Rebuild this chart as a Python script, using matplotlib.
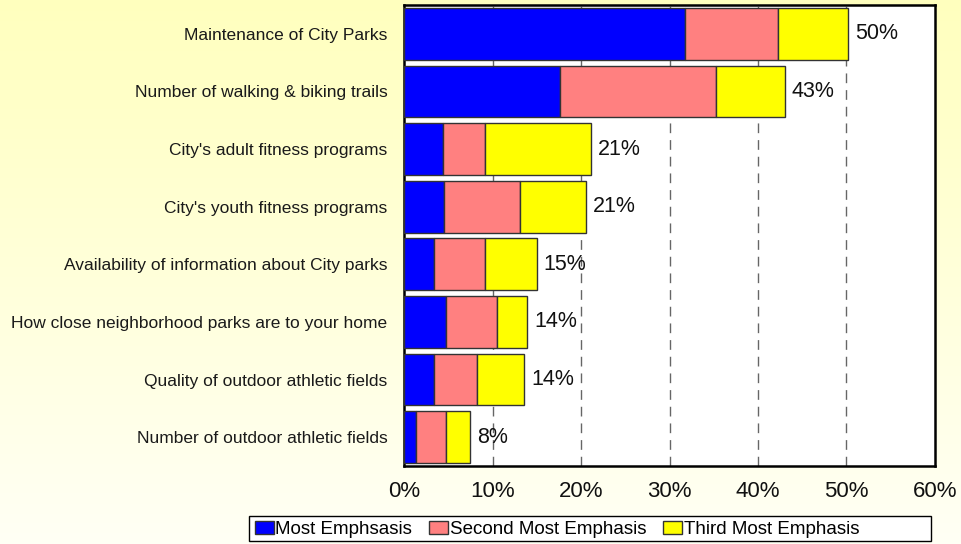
import numpy as np
import matplotlib
matplotlib.use("Agg")
import matplotlib.pyplot as plt
from matplotlib.ticker import FuncFormatter
from matplotlib.patches import Rectangle

plt.rcParams['font.family'] = ['Liberation Sans', 'DejaVu Sans']

# data (percent of respondents)
categorias = [
    "Maintenance of City Parks",
    "Number of walking & biking trails",
    "City's adult fitness programs",
    "City's youth fitness programs",
    "Availability of information about City parks",
    "How close neighborhood parks are to your home",
    "Quality of outdoor athletic fields",
    "Number of outdoor athletic fields",
]
most = [31.7, 17.6, 4.4, 4.5, 3.4, 4.8, 3.4, 1.4]
second = [10.6, 17.7, 4.7, 8.6, 5.7, 5.7, 4.8, 3.4]
third = [7.9, 7.7, 12.0, 7.5, 5.9, 3.4, 5.4, 2.7]
totais = [50, 43, 21, 21, 15, 14, 14, 8]
legendas = ["Most Emphsasis", "Second Most Emphasis", "Third Most Emphasis"]
xticks = [0, 10, 20, 30, 40, 50, 60]

fig = plt.figure(figsize=(9.62, 5.44), dpi=100)

# fundo em degrade amarelo -> branco
bg = fig.add_axes([0, 0, 1, 1], zorder=-10)
grad = np.linspace(0, 1, 256).reshape(-1, 1)
top = np.array([255, 255, 190]) / 255
bot = np.array([255, 255, 245]) / 255
img = top + (bot - top) * grad[:, :, None]
bg.imshow(img, aspect='auto', extent=[0, 1, 0, 1])
bg.axis('off')

ax = fig.add_axes([404 / 962, 1 - 466 / 544, (935 - 404) / 962, (466 - 5) / 544])
ax.set_facecolor('white')

y = np.arange(len(categorias))
m = np.array(most)
s = np.array(second)
t = np.array(third)
kw = dict(height=0.9, edgecolor='#333333', linewidth=1, zorder=3)
b1 = ax.barh(y, m, color='#0000FF', label=legendas[0], **kw)
b2 = ax.barh(y, s, left=m, color='#FF8080', label=legendas[1], **kw)
b3 = ax.barh(y, t, left=m + s, color='#FFFF00', label=legendas[2], **kw)

ax.bar_label(b3, labels=[f"{v}%" for v in totais], padding=5, fontsize=15.5,
             color='#111111')

ax.set_xlim(0, 60)
ax.set_ylim(len(categorias) - 0.5, -0.5)
ax.set_yticks(y)
ax.set_yticklabels(categorias, fontsize=12.5, color='#1a1a1a')
ax.set_xticks(xticks)
ax.xaxis.set_major_formatter(FuncFormatter(lambda v, p: f"{v:.0f}%"))
ax.tick_params(axis='x', length=0, labelsize=16, pad=11, labelcolor='#111111')
ax.tick_params(axis='y', length=0, pad=12)

for xv in xticks[1:-1]:
    ax.axvline(xv, color='#666666', linewidth=1, linestyle=(0, (7, 5)), zorder=1)

for sp in ax.spines.values():
    sp.set_linewidth(1.8)
    sp.set_color('black')

# caixa da legenda (mais larga que o conteudo, como no original)
fig.patches.append(Rectangle((249 / 962, 1 - 541 / 544), (931 - 249) / 962, 25 / 544,
                             transform=fig.transFigure, facecolor='white',
                             edgecolor='black', linewidth=1, zorder=1))
leg = fig.legend(loc='lower left', bbox_to_anchor=(251 / 962, 2 / 544), ncol=3,
                 fontsize=13.5, frameon=False, handlelength=1.0, handleheight=0.65,
                 handletextpad=0.1, columnspacing=0.9, borderpad=0.2,
                 borderaxespad=0)

fig.savefig("out.png", dpi=100)
